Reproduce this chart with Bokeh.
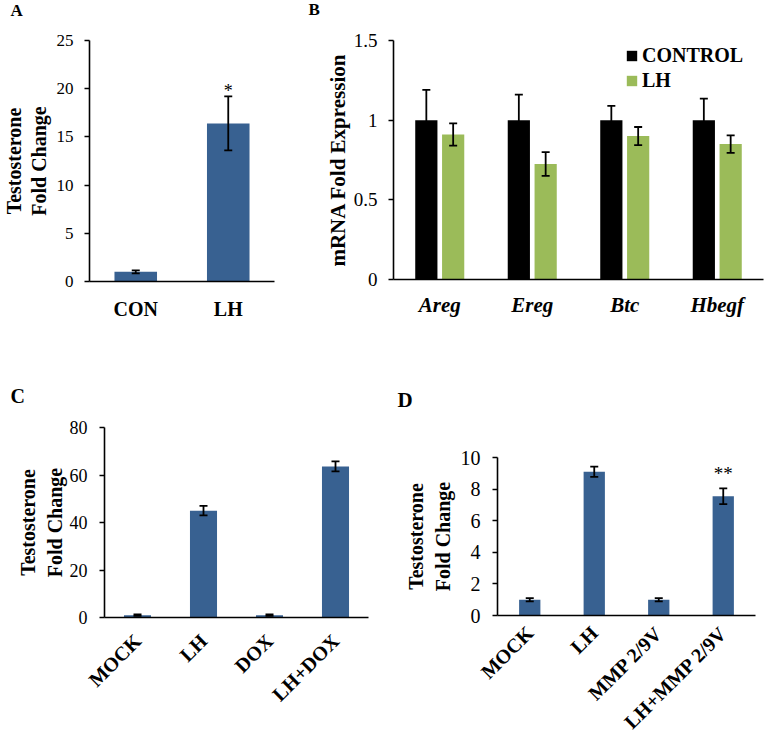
import math
from bokeh.plotting import figure
from bokeh.layouts import column, row
from bokeh.models import (Range1d, Whisker, TeeHead, ColumnDataSource, Label,
                          SingleIntervalTicker, NumeralTickFormatter, Legend, LegendItem)
from bokeh.transform import dodge
from bokeh.core.properties import value
from bokeh.embed import file_html
from bokeh.resources import INLINE

FONT = "Liberation Serif"
BLUE = "#386191"
GREEN = "#9BBB59"

# ---------------- data ----------------
# Panel A
a_groups = ["CON", "LH"]
a_values = [1.0, 16.4]
a_errors = [0.15, 2.8]

# Panel B
b_genes = ["Areg", "Ereg", "Btc", "Hbegf"]
b_control = [1.0, 1.0, 1.0, 1.0]
b_control_err = [0.19, 0.16, 0.09, 0.135]
b_lh = [0.91, 0.725, 0.90, 0.85]
b_lh_err = [0.07, 0.075, 0.057, 0.055]

# Panel C
c_groups = ["MOCK", "LH", "DOX", "LH+DOX"]
c_values = [1.0, 45.0, 1.0, 63.6]
c_errors = [0.3, 2.0, 0.3, 2.1]

# Panel D
d_groups = ["MOCK", "LH", "MMP 2/9V", "LH+MMP 2/9V"]
d_values = [1.0, 9.1, 1.0, 7.55]
d_errors = [0.1, 0.32, 0.1, 0.5]


def letter_strip(w, h, letters):
    """A thin figure (no axes) that only carries the panel letters."""
    s = figure(width=w, height=h, x_range=Range1d(0, w), y_range=Range1d(0, h),
               output_backend="svg", toolbar_location=None,
               min_border_left=0, min_border_right=0, min_border_top=0, min_border_bottom=0)
    s.frame_align = False
    s.xaxis.visible = False
    s.yaxis.visible = False
    s.grid.grid_line_color = None
    s.outline_line_color = None
    s.border_fill_color = "white"
    for txt, x, y, size in letters:
        s.add_layout(Label(x=x, y=y, x_units="screen", y_units="screen", text=txt,
                           text_font=FONT, text_font_size=size, text_font_style="bold",
                           text_color="black", text_align="left",
                           text_baseline="middle"))
    return s


def base_fig(w, h, left, right, top, bottom, factors, ymax, interval, fmt="0"):
    p = figure(width=w, height=h, x_range=factors, y_range=Range1d(0, ymax),
               output_backend="svg", toolbar_location=None,
               min_border_left=left, min_border_right=right,
               min_border_top=top, min_border_bottom=bottom)
    p.frame_align = False
    p.outline_line_color = None
    p.grid.grid_line_color = None
    p.background_fill_color = "white"
    p.border_fill_color = "white"
    ya = p.yaxis[0]
    ya.ticker = SingleIntervalTicker(interval=interval, num_minor_ticks=0)
    ya.formatter = NumeralTickFormatter(format=fmt)
    ya.axis_line_width = 1.6
    ya.axis_line_color = "black"
    ya.major_tick_line_width = 1.6
    ya.major_tick_out = 5
    ya.major_tick_in = 0
    ya.minor_tick_line_color = None
    ya.major_label_text_font = FONT
    ya.major_label_text_color = "black"
    ya.axis_label_text_font = FONT
    ya.axis_label_text_font_style = "bold"
    ya.axis_label_text_color = "black"
    xa = p.xaxis[0]
    xa.axis_line_width = 1.6
    xa.axis_line_color = "black"
    xa.major_tick_line_color = None
    xa.minor_tick_line_color = None
    xa.major_tick_out = 0
    xa.major_tick_in = 0
    xa.major_label_text_font = FONT
    xa.major_label_text_font_style = "bold"
    xa.major_label_text_color = "black"
    return p


def whiskers(p, base, upper, lower):
    src = ColumnDataSource(dict(base=base, upper=upper, lower=lower))
    w = Whisker(base="base", upper="upper", lower="lower", source=src,
                line_width=1.8, line_color="black",
                upper_head=TeeHead(size=8, line_width=1.8, line_color="black"),
                lower_head=TeeHead(size=8, line_width=1.8, line_color="black"))
    w.level = "annotation"
    p.add_layout(w)


def one_item_legend(label, renderer, loc):
    lg = Legend(items=[LegendItem(label=label, renderers=[renderer])], location=loc)
    lg.border_line_color = None
    lg.background_fill_alpha = 0
    lg.padding = 0
    lg.margin = 0
    lg.spacing = 0
    lg.glyph_width = 13
    lg.glyph_height = 13
    lg.label_standoff = 4
    lg.label_height = 20
    lg.label_text_font = FONT
    lg.label_text_font_style = "bold"
    lg.label_text_font_size = "20px"
    lg.label_text_color = "black"
    return lg


strip1 = letter_strip(765, 24, [("A", 10, 14, "17px"), ("B", 308, 15, "17px")])
strip2 = letter_strip(765, 55, [("C", 10, 20, "20px"), ("D", 397, 15.5, "21px")])

# ---------------- Panel A ----------------
pA = base_fig(300, 336, 82, 26, 16, 79, a_groups, 25, 5)
pA.vbar(x=a_groups, top=a_values, width=0.46, fill_color=BLUE, line_color=None)
whiskers(pA, a_groups, [v + e for v, e in zip(a_values, a_errors)],
         [v - e for v, e in zip(a_values, a_errors)])
pA.text(x=["LH"], y=[19.8], text=["*"], text_font=value(FONT), text_font_size="18px",
        text_align="center", text_baseline="middle", text_color="black")
pA.yaxis[0].major_label_text_font_size = "17px"
pA.yaxis[0].major_label_standoff = 11
pA.yaxis[0].axis_label = "Testosterone\nFold Change"
pA.yaxis[0].axis_label_text_font_size = "20px"
pA.yaxis[0].axis_label_text_line_height = 1.1
pA.yaxis[0].axis_label_standoff = 4
pA.xaxis[0].major_label_text_font_size = "20px"
pA.xaxis[0].major_label_standoff = 16

# ---------------- Panel B ----------------
pB = base_fig(465, 336, 93, 2, 16, 81, b_genes, 1.5, 0.5, fmt="0.[0]")
r_ctrl = pB.vbar(x=dodge("gene", -0.145, range=pB.x_range), top="control", width=0.24,
                 source=ColumnDataSource(dict(gene=b_genes, control=b_control)),
                 fill_color="black", line_color=None)
r_lh = pB.vbar(x=dodge("gene", 0.145, range=pB.x_range), top="lh", width=0.24,
               source=ColumnDataSource(dict(gene=b_genes, lh=b_lh)),
               fill_color=GREEN, line_color=None)
srcBc = ColumnDataSource(dict(gene=b_genes,
                              upper=[v + e for v, e in zip(b_control, b_control_err)],
                              lower=[v - e for v, e in zip(b_control, b_control_err)]))
srcBl = ColumnDataSource(dict(gene=b_genes,
                              upper=[v + e for v, e in zip(b_lh, b_lh_err)],
                              lower=[v - e for v, e in zip(b_lh, b_lh_err)]))
for src, off in ((srcBc, -0.145), (srcBl, 0.145)):
    w = Whisker(base=dodge("gene", off, range=pB.x_range), upper="upper", lower="lower",
                source=src, line_width=1.8, line_color="black",
                upper_head=TeeHead(size=8, line_width=1.8, line_color="black"),
                lower_head=TeeHead(size=8, line_width=1.8, line_color="black"))
    w.level = "annotation"
    pB.add_layout(w)
pB.add_layout(one_item_legend("CONTROL", r_ctrl, (232, 212)), "center")
pB.add_layout(one_item_legend("LH", r_lh, (232, 187)), "center")
pB.yaxis[0].major_label_text_font_size = "19px"
pB.yaxis[0].major_label_standoff = 11
pB.yaxis[0].axis_label = "mRNA Fold Expression"
pB.yaxis[0].axis_label_text_font_size = "21px"
pB.yaxis[0].axis_label_standoff = 1
pB.xaxis[0].major_label_text_font_size = "21px"
pB.xaxis[0].major_label_text_font_style = "bold italic"
pB.xaxis[0].major_label_standoff = 13

# ---------------- Panel C ----------------
pC = base_fig(380, 328, 104, 12, 12, 126, c_groups, 80, 20)
pC.vbar(x=c_groups, top=c_values, width=0.41, fill_color=BLUE, line_color=None)
whiskers(pC, c_groups, [v + e for v, e in zip(c_values, c_errors)],
         [v - e for v, e in zip(c_values, c_errors)])
pC.yaxis[0].major_label_text_font_size = "18px"
pC.yaxis[0].major_label_standoff = 12
pC.yaxis[0].axis_label = "Testosterone\nFold Change"
pC.yaxis[0].axis_label_text_font_size = "20px"
pC.yaxis[0].axis_label_text_line_height = 1.2
pC.yaxis[0].axis_label_standoff = 1
pC.xaxis[0].major_label_text_font_size = "20px"
pC.xaxis[0].major_label_orientation = math.pi / 4
pC.xaxis[0].major_label_standoff = 20

# ---------------- Panel D ----------------
pD = base_fig(385, 328, 117, 10, 42, 128, d_groups, 10, 2)
pD.vbar(x=d_groups, top=d_values, width=0.33, fill_color=BLUE, line_color=None)
whiskers(pD, d_groups, [v + e for v, e in zip(d_values, d_errors)],
         [v - e for v, e in zip(d_values, d_errors)])
pD.text(x=["LH+MMP 2/9V"], y=[9.0], text=["**"], text_font=value(FONT), text_font_size="19px",
        text_align="center", text_baseline="middle", text_color="black")
pD.yaxis[0].major_label_text_font_size = "20px"
pD.yaxis[0].major_label_standoff = 12
pD.yaxis[0].axis_label = "Testosterone\nFold Change"
pD.yaxis[0].axis_label_text_font_size = "20px"
pD.yaxis[0].axis_label_text_line_height = 1.2
pD.yaxis[0].axis_label_standoff = 4
pD.xaxis[0].major_label_text_font_size = "20px"
pD.xaxis[0].major_label_orientation = math.pi / 4
pD.xaxis[0].major_label_standoff = 14

layout = column(strip1, row(pA, pB), strip2, row(pC, pD))
open("out.html", "w").write(file_html(layout, INLINE))
